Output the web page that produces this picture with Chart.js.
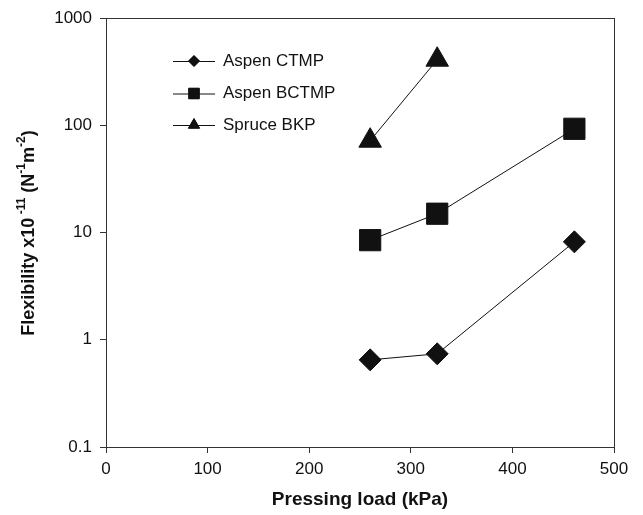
<!DOCTYPE html>
<html>
<head>
<meta charset="utf-8">
<script src="https://cdn.jsdelivr.net/npm/chart.js@4/dist/chart.umd.min.js"></script>
<style>
html,body{margin:0;padding:0;background:#fff;}
#wrap{width:643px;height:515px;}
</style>
</head>
<body>
<div id="wrap"><canvas id="c" width="643" height="515"></canvas></div>
<script>
const seriesNames = ["Aspen CTMP", "Aspen BCTMP", "Spruce BKP"];
const ctmpX = [260, 326, 461];
const ctmpY = [0.65, 0.74, 8.2];
const bctmpX = [260, 326, 461];
const bctmpY = [8.5, 15, 93];
const bkpX = [260, 326];
const bkpY = [72, 410];
const yTicks = [0.1, 1, 10, 100, 1000];
const xTicks = [0, 100, 200, 300, 400, 500];
const xTitle = "Pressing load (kPa)";

const FONT = "'Liberation Sans', Arial, sans-serif";
const INK = '#111';

function pts(xs, ys){ return xs.map((x,i)=>({x:x, y:ys[i]})); }

const styles = [
  {pointStyle:'rectRot', pointRadius:11, legendRadius:5.5},
  {pointStyle:'rect', pointRadius:15, legendRadius:7.5},
  {pointStyle:'triangle', pointRadius:13, legendRadius:6.5}
];
const rawData = [[ctmpX, ctmpY],[bctmpX,bctmpY],[bkpX,bkpY]];

const datasets = seriesNames.map((n,i)=>({
  label:n,
  data: pts(rawData[i][0], rawData[i][1]),
  borderColor:INK,
  backgroundColor:INK,
  borderWidth:1,
  pointStyle:styles[i].pointStyle,
  pointRadius:styles[i].pointRadius,
  pointHoverRadius:styles[i].pointRadius,
  pointBackgroundColor:INK,
  pointBorderColor:INK,
  pointBorderWidth:1,
  showLine:true,
  tension:0
}));

const decor = {
  id:'decor',
  afterDraw(chart){
    const ctx = chart.ctx, a = chart.chartArea;
    ctx.save();
    // frame
    ctx.strokeStyle = '#333';
    ctx.lineWidth = 1;
    ctx.strokeRect(Math.round(a.left)+0.5, Math.round(a.top)+0.5, Math.round(a.right-a.left), Math.round(a.bottom-a.top));
    // legend
    const legX1 = 173, legX2 = 215, legMx = 194, legTx = 223;
    const rows = [61, 93.5, 125];
    ctx.font = '17px ' + FONT;
    ctx.textBaseline = 'middle';
    ctx.textAlign = 'left';
    datasets.forEach((d,i)=>{
      const y = rows[i];
      ctx.strokeStyle = INK; ctx.lineWidth = 1;
      ctx.beginPath(); ctx.moveTo(legX1, y+0.5); ctx.lineTo(legX2, y+0.5); ctx.stroke();
      Chart.helpers.drawPoint(ctx, {pointStyle:d.pointStyle, rotation:0, borderWidth:1, radius:styles[i].legendRadius}, legMx, y);
      ctx.fillStyle = INK;
      ctx.fill();
      ctx.fillStyle = '#111';
      ctx.fillText(d.label, legTx, y);
    });
    // x title
    ctx.font = 'bold 19px ' + FONT;
    ctx.textAlign = 'center';
    ctx.textBaseline = 'middle';
    ctx.fillStyle = '#111';
    ctx.fillText(xTitle, (a.left + a.right)/2, 500);
    // y title with superscripts
    const parts = [
      {t:'Flexibility x10', sup:false},
      {t:' -11', sup:true},
      {t:' (N', sup:false},
      {t:'-1', sup:true},
      {t:'m', sup:false},
      {t:'-2', sup:true},
      {t:')', sup:false}
    ];
    const mainF = 'bold 18px ' + FONT, supF = 'bold 12px ' + FONT;
    let total = 0;
    parts.forEach(p=>{ ctx.font = p.sup?supF:mainF; p.w = ctx.measureText(p.t).width; total += p.w; });
    ctx.translate(29, 233);
    ctx.rotate(-Math.PI/2);
    let x = -total/2;
    ctx.textAlign = 'left';
    ctx.textBaseline = 'middle';
    parts.forEach(p=>{
      ctx.font = p.sup?supF:mainF;
      ctx.fillText(p.t, x, p.sup ? -7 : 0);
      x += p.w;
    });
    ctx.restore();
  }
};

new Chart(document.getElementById('c'), {
  type:'scatter',
  data:{datasets:datasets},
  options:{
    responsive:false,
    animation:false,
    devicePixelRatio:1,
    layout:{padding:{left:0, top:18, right:29, bottom:0}},
    plugins:{legend:{display:false}, tooltip:{enabled:false}},
    scales:{
      x:{
        type:'linear', min:0, max:500,
        afterBuildTicks(s){ s.ticks = xTicks.map(v=>({value:v})); },
        afterFit(s){ s.height = 68; },
        grid:{drawOnChartArea:false, drawTicks:true, tickLength:6, color:'#333', lineWidth:1},
        border:{display:true, color:'#333', width:1},
        ticks:{font:{family:FONT, size:17}, color:'#111', padding:6, maxRotation:0,
          callback:(v)=>String(v)}
      },
      y:{
        type:'logarithmic', min:0.1, max:1000,
        afterBuildTicks(s){ s.ticks = yTicks.map(v=>({value:v, major:true})); },
        afterFit(s){ s.width = 106; },
        grid:{drawOnChartArea:false, drawTicks:true, tickLength:6, color:'#333', lineWidth:1},
        border:{display:true, color:'#333', width:1},
        ticks:{font:{family:FONT, size:17}, color:'#111', padding:8,
          callback:(v)=>String(v)}
      }
    }
  },
  plugins:[decor]
});
</script>
</body>
</html>
